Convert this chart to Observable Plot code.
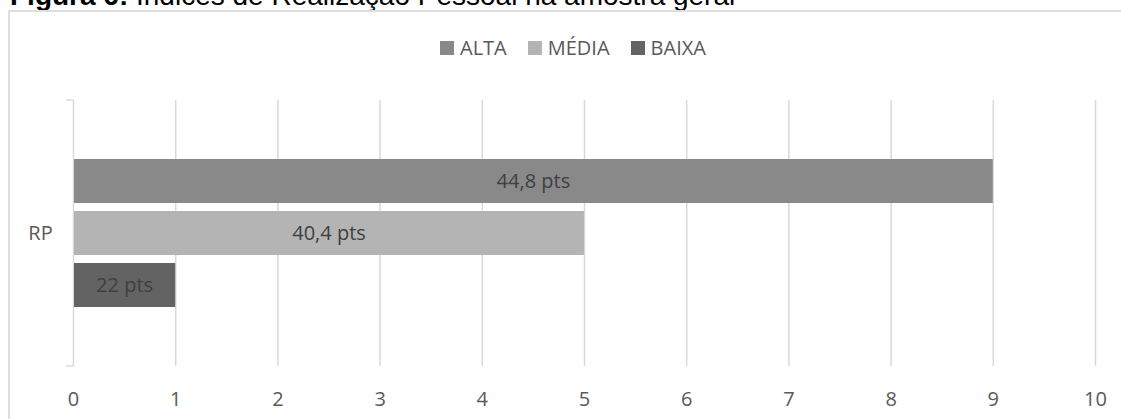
<!DOCTYPE html>
<html>
<head>
<meta charset="utf-8">
<script src="https://cdn.jsdelivr.net/npm/d3@7"></script>
<script src="https://cdn.jsdelivr.net/npm/@observablehq/plot@0.6"></script>
<style>
  html, body { margin: 0; padding: 0; background: #fff; width: 1121px; height: 419px; overflow: hidden; }
  #title { position: absolute; left: 10px; top: -18px; font-family: "Liberation Sans", Arial, sans-serif; font-size: 28px; line-height: 28px; color: #000; white-space: nowrap; z-index: 0; }
  #frame { position: absolute; left: 8px; top: 10px; width: 1300px; height: 600px; border: 2px solid #dedede; background: #fff; z-index: 1; }
  #chart { position: absolute; left: 0; top: 0; z-index: 2; }
  #legend { position: absolute; left: 440px; top: 38px; display: flex; align-items: center; font-family: "Open Sans", sans-serif; font-size: 20px; line-height: 20px; color: #595959; z-index: 3; }
  .item { display: flex; align-items: center; margin-right: 21px; }
  .sw { width: 14px; height: 14px; margin-right: 6px; }
</style>
</head>
<body>
<div id="title"><b>Figura 6:</b> Índices de Realização Pessoal na amostra geral</div>
<div id="frame"></div>
<div id="legend"></div>
<div id="chart"></div>
<script>
const category = "RP";
const levels = ["ALTA", "MÉDIA", "BAIXA"];
const values = [9, 5, 1];
const labels = ["44,8 pts", "40,4 pts", "22 pts"];
const colors = ["#898989", "#b4b4b4", "#636363"];
const xTicks = [0, 1, 2, 3, 4, 5, 6, 7, 8, 9, 10];

const data = levels.map((level, i) => ({category, level, value: values[i], label: labels[i]}));

// legend
const legend = document.getElementById("legend");
levels.forEach((l, i) => {
  const it = document.createElement("div");
  it.className = "item";
  const sw = document.createElement("span");
  sw.className = "sw";
  sw.style.background = colors[i];
  const tx = document.createElement("span");
  tx.textContent = l;
  it.appendChild(sw);
  it.appendChild(tx);
  legend.appendChild(it);
});

const gridColor = "#d9d9d9";

const chart = Plot.plot({
  width: 1121,
  height: 419,
  marginLeft: 73,
  marginRight: 26,
  marginTop: 100,
  marginBottom: 53,
  style: {fontFamily: "'Open Sans', sans-serif", fontSize: "20px", color: "#595959", background: "transparent", overflow: "visible"},
  x: {domain: [0, 10]},
  y: {domain: levels, paddingInner: 0.162, paddingOuter: 1.114, axis: null},
  color: {domain: levels, range: colors},
  marks: [
    Plot.gridX(xTicks, {stroke: gridColor, strokeOpacity: 1, strokeWidth: 1.5}),
    Plot.axisX(xTicks, {tickSize: 0, tickPadding: 25, label: null, color: "#595959", tickFormat: d => String(d)}),
    Plot.barX(data, {x: "value", y: "level", fill: "level", insetLeft: 1}),
    Plot.text(data, {x: d => d.value / 2, y: "level", text: "label", fill: "#404040", fontSize: 20}),
    Plot.text([category], {frameAnchor: "left", dx: -33, textAnchor: "middle", fill: "#595959", fontSize: 20})
  ]
});

// category axis boundary ticks (top and bottom of the single category "RP")
const sx = chart.scale("x");
const x0 = sx.apply(0);
const svg = d3.select(chart);
[100, 419 - 53].forEach(yy => {
  svg.append("line")
    .attr("x1", x0 - 7).attr("x2", x0)
    .attr("y1", yy).attr("y2", yy)
    .attr("stroke", gridColor).attr("stroke-width", 1.5);
});

document.getElementById("chart").appendChild(chart);
</script>
</body>
</html>
